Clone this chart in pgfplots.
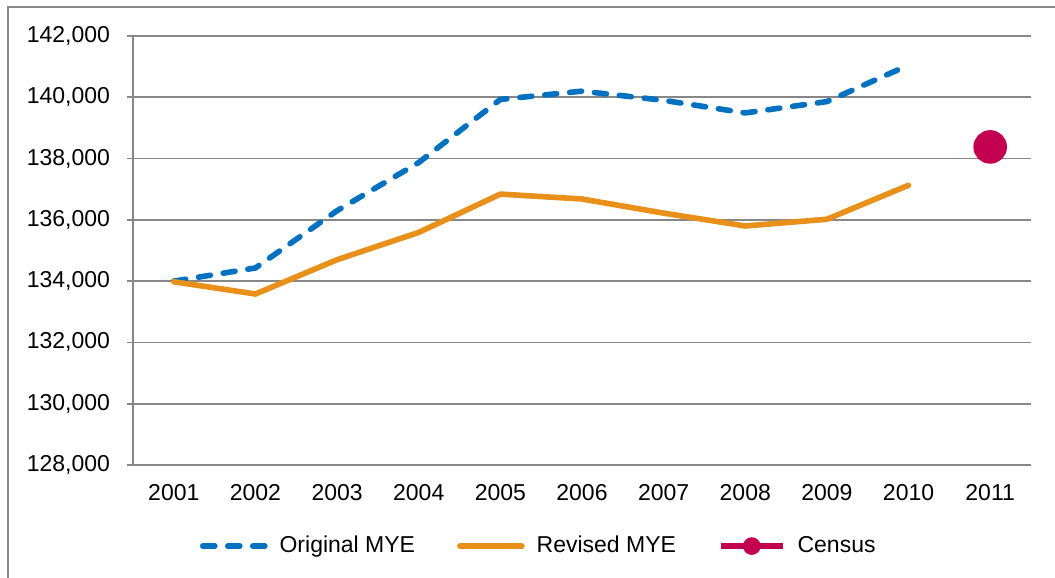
\documentclass[border=0pt]{standalone}
\usepackage{pgfplots}
\pgfplotsset{compat=1.18}
\usepackage{fontspec}
\setmainfont{Liberation Sans}

\definecolor{origblue}{HTML}{0070C0}
\definecolor{revorange}{HTML}{E8901A}
\definecolor{censusred}{HTML}{C3004F}
\definecolor{gridgray}{HTML}{878787}

\begin{document}
\begin{tikzpicture}
\useasboundingbox (-66.5pt,-56.5pt) rectangle (461pt,232.5pt);
\begin{axis}[
    at={(0pt,0pt)}, anchor=south west,
    scale only axis,
    width=449pt, height=214.5pt,
    xmin=-0.5, xmax=10.5,
    ymin=128000, ymax=142000,
    scaled y ticks=false,
    ytick={128000,130000,132000,134000,136000,138000,140000,142000},
    yticklabels={{128,000},{130,000},{132,000},{134,000},{136,000},{138,000},{140,000},{142,000}},
    xtick={0,...,10},
    xticklabels={2001,2002,2003,2004,2005,2006,2007,2008,2009,2010,2011},
    minor xtick={-0.5,0.5,...,10.5},
    axis lines*=left,
    axis line style={gridgray, line width=0.9pt},
    ymajorgrids,
    grid style={gridgray, line width=0.9pt},
    tick align=outside,
    major tick length=3pt,
    minor tick length=3.5pt,
    xtick style={draw=none},
    minor x tick style={gridgray, line width=0.9pt},
    ytick style={gridgray, line width=0.9pt},
    tick label style={font=\fontsize{11.5}{13}\selectfont},
    yticklabel style={xshift=-5pt},
    xticklabel style={yshift=-3pt},
    legend style={at={(0.453,-0.189)}, anchor=center, draw=none,
        legend columns=3, font=\fontsize{11.5}{13}\selectfont,
        /tikz/every odd column/.append style={column sep=4pt},
        /tikz/every even column/.append style={column sep=19pt}},
    legend image code/.code={
        \draw[#1, mark=none] (0pt,0pt) -- (31pt,0pt);
    },
]
\addplot[origblue, line width=2.8pt, line cap=round, dash pattern=on 6pt off 6.5pt]
coordinates {
    (0,134000) (1,134430) (2,136300) (3,137870) (4,139930)
    (5,140200) (6,139900) (7,139490) (8,139860) (9,141050)
};
\addlegendentry{Original MYE}
\addplot[revorange, line width=2.8pt, line cap=round]
coordinates {
    (0,133980) (1,133580) (2,134700) (3,135590) (4,136840)
    (5,136680) (6,136220) (7,135800) (8,136020) (9,137130)
};
\addlegendentry{Revised MYE}
\addplot[censusred, line width=2.8pt, mark=*, mark size=7pt,
    legend image code/.code={
        \draw[censusred, line width=2.8pt] (0pt,0pt) -- (31pt,0pt);
        \fill[censusred] (15.5pt,0pt) circle (3pt);
    }]
coordinates {
    (10,138380)
};
\addlegendentry{Census}
\end{axis}
\draw[gridgray, line width=1.2pt] (-62.5pt,-60pt) -- (-62.5pt,229pt) -- (465pt,229pt);
\end{tikzpicture}
\end{document}
